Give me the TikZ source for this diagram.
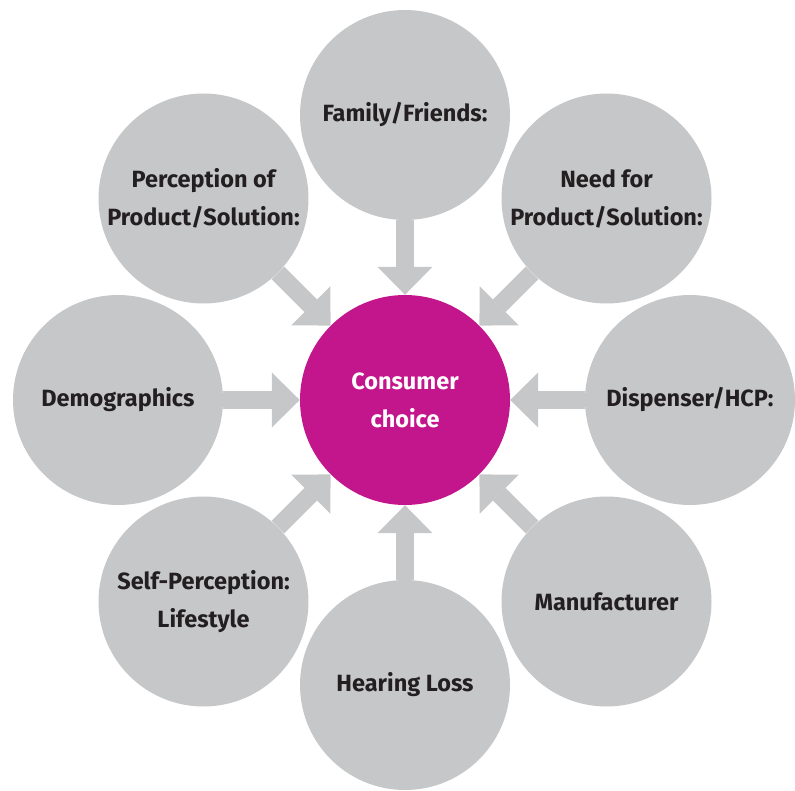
\documentclass[tikz,border=0pt]{standalone}
\usepackage{fontspec}
\setmainfont{Fira Sans}
\usetikzlibrary{arrows.meta}
\definecolor{ringgray}{HTML}{C6C7C9}
\definecolor{hubpink}{HTML}{C4168C}
\definecolor{labeltext}{HTML}{231F20}
\tikzset{
  factor/.style={circle, fill=ringgray, minimum size=210pt, inner sep=0pt,
    align=center, text=labeltext, font=\fontsize{23.5}{38}\selectfont\bfseries},
  hub/.style={circle, fill=hubpink, minimum size=210pt, inner sep=0pt,
    align=center, text=white, font=\fontsize{23.5}{38}\selectfont\bfseries},
  push/.style={draw=ringgray, line width=18pt,
    -{Triangle[length=28pt, width=55pt, line width=0pt]}}
}
\begin{document}
\begin{tikzpicture}[x=1pt, y=-1pt]
\useasboundingbox (0,0) rectangle (795,791);
\node[hub] (choice) at (405,400) {Consumer\\choice};
% ring of influences
\node[factor] (family)  at (405,115)     {Family/Friends:};
\node[factor] (need)    at (606.5,198.5) {Need for\\Product/Solution:};
\node[factor] (hcp)     at (690,400)     {Dispenser/HCP:};
\node[factor] (maker)   at (606.5,601.5) {Manufacturer};
\node[factor] (hearing) at (405,685)     {Hearing Loss};
\node[factor] (self)    at (203.5,601.5) {Self-Perception:\\Lifestyle};
\node[factor] (demo)    at (118,400)     {Demographics};
\node[factor] (percept) at (203.5,198.5) {Perception of\\Product/Solution:};
\foreach \f in {family,need,hcp,maker,hearing,self,demo,percept}
  \draw[push] (\f) -- (choice);
\end{tikzpicture}
\end{document}
